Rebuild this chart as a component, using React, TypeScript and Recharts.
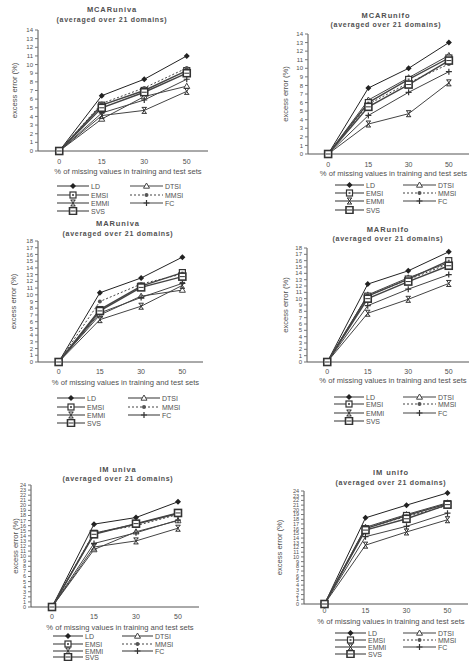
// Six small excess-error line charts (MCAR / MAR / IM, univa / unifo)
// drawn with Recharts LineChart, legends and titles as plain HTML

import React from "react"
import { LineChart, Line, XAxis, YAxis, Label } from "recharts"

const missingPct = ["0", "15", "30", "50"]
const methods = ["LD", "DTSI", "EMSI", "MMSI", "EMMI", "FC", "SVS"]

// each table: one row per method, same order as `methods`
const mcarUniva = [
  [0, 6.4, 8.3, 11.0],
  [0, 3.7, 6.3, 7.5],
  [0, 5.3, 7.0, 9.3],
  [0, 5.5, 7.3, 9.6],
  [0, 4.1, 4.7, 6.9],
  [0, 4.4, 5.9, 8.3],
  [0, 5.0, 6.8, 9.0],
]
const mcarUnifo = [
  [0, 7.7, 10.0, 13.0],
  [0, 6.3, 8.9, 11.5],
  [0, 6.0, 8.7, 11.2],
  [0, 5.8, 8.3, 10.5],
  [0, 3.5, 4.7, 8.3],
  [0, 4.5, 7.2, 9.6],
  [0, 5.5, 8.1, 10.9],
]
const marUniva = [
  [0, 10.3, 12.5, 15.6],
  [0, 7.0, 9.8, 10.7],
  [0, 7.8, 11.3, 13.3],
  [0, 9.0, 11.6, 13.1],
  [0, 6.3, 8.3, 11.4],
  [0, 7.3, 9.6, 11.7],
  [0, 7.6, 11.1, 12.7],
]
const marUnifo = [
  [0, 12.3, 14.4, 17.4],
  [0, 10.6, 13.3, 15.7],
  [0, 10.4, 13.1, 16.0],
  [0, 10.5, 13.0, 15.5],
  [0, 7.7, 9.9, 12.4],
  [0, 8.9, 11.5, 13.8],
  [0, 10.0, 12.7, 15.2],
]
const imUniva = [
  [0, 16.3, 17.6, 20.7],
  [0, 11.3, 14.8, 17.0],
  [0, 14.5, 16.3, 18.4],
  [0, 14.6, 16.0, 18.2],
  [0, 11.8, 13.0, 15.5],
  [0, 12.5, 14.6, 17.1],
  [0, 14.3, 16.4, 18.5],
]
const imUnifo = [
  [0, 18.3, 21.0, 23.6],
  [0, 16.3, 19.0, 21.5],
  [0, 16.0, 18.8, 21.3],
  [0, 16.1, 18.6, 20.9],
  [0, 12.5, 15.3, 17.9],
  [0, 14.3, 16.5, 19.3],
  [0, 15.7, 18.1, 21.1],
]

const FONT = "'Liberation Sans', Arial, sans-serif"
const INK = "#333"
const TEXT = "#505050"

// legend slot of each method: [column, row]
const legendSlot: Record<string, [number, number]> = {
  LD: [0, 0], EMSI: [0, 1], EMMI: [0, 2], SVS: [0, 3],
  DTSI: [1, 0], MMSI: [1, 1], FC: [1, 2],
}

interface PanelCfg {
  title: string
  values: number[][]
  yMax: number
  x0: number
  w: number
  left: number
  right: number
  top: number
  zero: number
  titleX: number
  titleY: number
  subY: number
  yLabelX: number
  tickSize: number
  xLabelGap: number
  rows: number[]
  cols: [number, number, number][]
}

const panels: PanelCfg[] = [
  {
    title: "MCARuniva", values: mcarUniva, yMax: 14, x0: 0, w: 236,
    left: 38, right: 208, top: 30, zero: 151, titleX: 112, titleY: 10, subY: 20,
    yLabelX: 14, tickSize: 6, xLabelGap: 20, rows: [186, 195, 203, 211],
    cols: [[57, 89, 91], [130, 163, 165]],
  },
  {
    title: "MCARunifo", values: mcarUnifo, yMax: 14, x0: 236, w: 240,
    left: 308, right: 469, top: 34, zero: 154, titleX: 386, titleY: 16, subY: 25,
    yLabelX: 285, tickSize: 6, xLabelGap: 19, rows: [185, 193, 201, 210],
    cols: [[335, 364, 366], [403, 436, 438]],
  },
  {
    title: "MARuniva", values: marUniva, yMax: 18, x0: 0, w: 236,
    left: 38, right: 203, top: 241, zero: 362, titleX: 118, titleY: 224, subY: 234,
    yLabelX: 13, tickSize: 5, xLabelGap: 20, rows: [398, 407, 415, 423],
    cols: [[57, 85, 87], [128, 160, 162]],
  },
  {
    title: "MARunifo", values: marUnifo, yMax: 18, x0: 236, w: 240,
    left: 307, right: 469, top: 248, zero: 362, titleX: 388, titleY: 230, subY: 239,
    yLabelX: 285, tickSize: 5, xLabelGap: 18, rows: [397, 404, 413, 421],
    cols: [[334, 364, 366], [403, 436, 438]],
  },
  {
    title: "IM univa", values: imUniva, yMax: 24, x0: 0, w: 236,
    left: 31, right: 199, top: 485, zero: 607, titleX: 118, titleY: 470, subY: 479,
    yLabelX: 15, tickSize: 5, xLabelGap: 20, rows: [636, 644, 651, 657],
    cols: [[53, 83, 85], [122, 153, 155]],
  },
  {
    title: "IM unifo", values: imUnifo, yMax: 24, x0: 236, w: 240,
    left: 304, right: 468, top: 491, zero: 604, titleX: 391, titleY: 473, subY: 483,
    yLabelX: 279, tickSize: 2, xLabelGap: 17, rows: [633, 640, 647, 654],
    cols: [[335, 366, 368], [403, 436, 438]],
  },
]

function Marker({ kind, x, y }: { kind: string; x: number; y: number }) {
  switch (kind) {
    case "LD":
      return <path d={`M${x},${y - 3}L${x + 3},${y}L${x},${y + 3}L${x - 3},${y}Z`} fill="#222" />
    case "DTSI":
      return <path d={`M${x},${y - 3}L${x + 3},${y + 2.2}L${x - 3},${y + 2.2}Z`} fill="#fff" stroke="#444" strokeWidth={1} />
    case "EMSI":
      return (
        <g>
          <rect x={x - 3} y={y - 3} width={6} height={6} fill="#fff" stroke={INK} strokeWidth={1.2} />
          <rect x={x - 1} y={y - 1} width={2} height={2} fill="#666" />
        </g>
      )
    case "MMSI":
      return <circle cx={x} cy={y} r={2} fill="#555" />
    case "EMMI":
      return (
        <path
          d={`M${x - 2.5},${y - 3}h5M${x - 2.5},${y + 3}h5M${x - 2},${y - 3}L${x + 2},${y + 3}M${x + 2},${y - 3}L${x - 2},${y + 3}`}
          stroke={INK} strokeWidth={1} fill="none"
        />
      )
    case "FC":
      return <path d={`M${x - 3},${y}h6M${x},${y - 3}v6`} stroke={INK} strokeWidth={1.2} fill="none" />
    default:
      return (
        <g>
          <rect x={x - 3.5} y={y - 3.5} width={7} height={7} fill="#fff" stroke={INK} strokeWidth={1.6} />
          <path d={`M${x - 2.5},${y}h5`} stroke={INK} strokeWidth={1} />
        </g>
      )
  }
}

function Panel({ p }: { p: PanelCfg }) {
  const data = missingPct.map((pct, i) => {
    const row: Record<string, number | string> = { pct }
    methods.forEach((m, k) => (row[m] = p.values[k][i]))
    return row
  })
  const chartTop = p.top - 10
  const h = p.zero - chartTop + 28
  const pad = (p.right - p.left) / 8
  const yTicks = Array.from({ length: p.yMax + 1 }, (_, i) => i)
  const dense = p.yMax > 20
  const textBase: React.CSSProperties = {
    position: "absolute", fontFamily: FONT, color: TEXT, whiteSpace: "nowrap",
    lineHeight: "9px", fontWeight: "bold", textAlign: "center", width: 200,
  }

  return (
    <>
      <div style={{ ...textBase, left: p.titleX - 100, top: p.titleY - 5, fontSize: 7.5, letterSpacing: 0.9 }}>
        {p.title}
      </div>
      <div style={{ ...textBase, left: p.titleX - 100, top: p.subY - 5, fontSize: 7, letterSpacing: 0.7 }}>
        (averaged over 21 domains)
      </div>
      <div style={{ position: "absolute", left: p.x0, top: chartTop }}>
        <LineChart
          width={p.w}
          height={h}
          data={data}
          margin={{ top: 10, right: p.w - (p.right - p.x0), bottom: 0, left: 0 }}
        >
          <XAxis
            dataKey="pct"
            padding={{ left: pad, right: pad }}
            height={28}
            tickLine={false}
            tickSize={p.tickSize}
            axisLine={{ stroke: "#555" }}
            tick={{ fontSize: 7, fill: TEXT, fontFamily: FONT }}
          >
            <Label
              content={() => (
                <text
                  x={(p.left + p.right) / 2 + 5 - p.x0}
                  y={p.zero + p.xLabelGap - chartTop}
                  textAnchor="middle"
                  dominantBaseline="central"
                  fontSize={7.6}
                  fill={TEXT}
                  fontFamily={FONT}
                >
                  % of missing values in training and test sets
                </text>
              )}
            />
          </XAxis>
          <YAxis
            width={p.left - p.x0}
            domain={[0, p.yMax]}
            ticks={yTicks}
            interval={0}
            tickSize={3}
            tickMargin={2}
            axisLine={{ stroke: "#555" }}
            tickLine={{ stroke: "#777" }}
            tick={{ fontSize: dense ? 5.5 : 6, fill: TEXT, fontFamily: FONT }}
          >
            <Label
              content={() => (
                <text
                  transform={`translate(${p.yLabelX - p.x0},${(p.top + p.zero) / 2 - chartTop}) rotate(-90)`}
                  textAnchor="middle"
                  dominantBaseline="central"
                  fontSize={7.6}
                  fill={TEXT}
                  fontFamily={FONT}
                >
                  excess error (%)
                </text>
              )}
            />
          </YAxis>
          {methods.map((m) => (
            <Line
              key={m}
              type="linear"
              dataKey={m}
              stroke={m === "LD" ? "#222" : "#444"}
              strokeWidth={m === "EMSI" || m === "SVS" ? 1.4 : 1}
              strokeDasharray={m === "MMSI" ? "2 2" : undefined}
              isAnimationActive={false}
              dot={(d: any) => (
                <g key={`${m}-${d.index}`}>
                  <Marker kind={m} x={d.cx} y={d.cy} />
                </g>
              )}
              activeDot={false}
            />
          ))}
        </LineChart>
      </div>
      {methods.map((m) => {
        const [c, r] = legendSlot[m]
        const [ls, le, tx] = p.cols[c]
        const y = p.rows[r]
        const lw = le - ls
        return (
          <React.Fragment key={m}>
            <svg style={{ position: "absolute", left: ls, top: y - 4 }} width={lw} height={8}>
              <line x1={0} x2={lw} y1={4} y2={4} stroke="#444" strokeWidth={1.1} strokeDasharray={m === "MMSI" ? "2 2" : undefined} />
              <Marker kind={m} x={lw / 2} y={4} />
            </svg>
            <div style={{ ...textBase, fontWeight: "normal", textAlign: "left", width: "auto", left: tx, top: y - 4.5, fontSize: 7 }}>
              {m}
            </div>
          </React.Fragment>
        )
      })}
    </>
  )
}

export default function App() {
  return (
    <div style={{ position: "absolute", left: 0, top: 0, width: 476, height: 662, overflow: "hidden", background: "#fff" }}>
      {panels.map((p) => (
        <Panel key={p.title} p={p} />
      ))}
    </div>
  )
}
